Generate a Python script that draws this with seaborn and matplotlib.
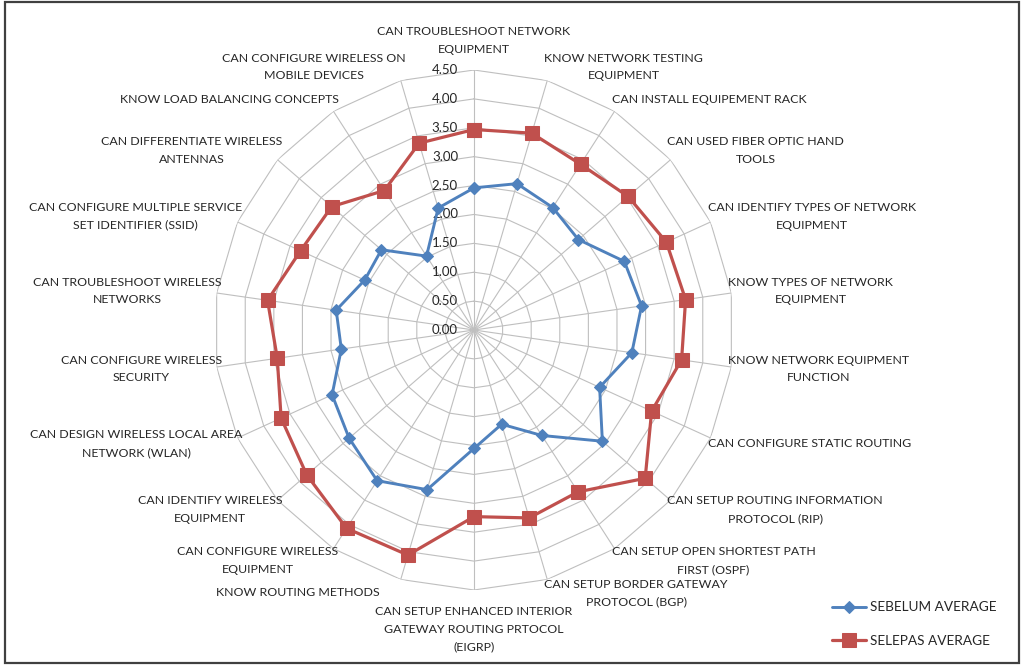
import numpy as np
import pandas as pd
import matplotlib
matplotlib.use("Agg")
import matplotlib.pyplot as plt
from matplotlib.patches import Rectangle
import seaborn as sns

# ---- data -------------------------------------------------------------
categories = [
    "CAN TROUBLESHOOT NETWORK\nEQUIPMENT",
    "KNOW NETWORK TESTING\nEQUIPMENT",
    "CAN INSTALL EQUIPEMENT RACK",
    "CAN USED FIBER OPTIC HAND\nTOOLS",
    "CAN IDENTIFY TYPES OF NETWORK\nEQUIPMENT",
    "KNOW TYPES OF NETWORK\nEQUIPMENT",
    "KNOW NETWORK EQUIPMENT\nFUNCTION",
    "CAN CONFIGURE STATIC ROUTING",
    "CAN SETUP ROUTING INFORMATION\nPROTOCOL (RIP)",
    "CAN SETUP OPEN SHORTEST PATH\nFIRST (OSPF)",
    "CAN SETUP BORDER GATEWAY\nPROTOCOL (BGP)",
    "CAN SETUP ENHANCED INTERIOR\nGATEWAY ROUTING PRTOCOL\n(EIGRP)",
    "KNOW ROUTING METHODS",
    "CAN CONFIGURE WIRELESS\nEQUIPMENT",
    "CAN IDENTIFY WIRELESS\nEQUIPMENT",
    "CAN DESIGN WIRELESS LOCAL AREA\nNETWORK (WLAN)",
    "CAN CONFIGURE WIRELESS\nSECURITY",
    "CAN TROUBLESHOOT WIRELESS\nNETWORKS",
    "CAN CONFIGURE MULTIPLE SERVICE\nSET IDENTIFIER (SSID)",
    "CAN DIFFERENTIATE WIRELESS\nANTENNAS",
    "KNOW LOAD BALANCING CONCEPTS",
    "CAN CONFIGURE WIRELESS ON\nMOBILE DEVICES",
]

sebelum_avg = [2.46, 2.64, 2.52, 2.39, 2.86, 2.93, 2.76, 2.39, 2.94, 2.17, 1.70,
               2.05, 2.88, 3.10, 2.86, 2.70, 2.32, 2.41, 2.08, 2.12, 1.52, 2.20]
selepas_avg = [3.47, 3.55, 3.41, 3.53, 3.66, 3.70, 3.63, 3.38, 3.92, 3.33, 3.39,
               3.23, 4.06, 4.08, 3.83, 3.67, 3.44, 3.61, 3.30, 3.26, 2.87, 3.37]

series_names = ["SEBELUM AVERAGE", "SELEPAS AVERAGE"]
radial_ticks = [0.0, 0.5, 1.0, 1.5, 2.0, 2.5, 3.0, 3.5, 4.0, 4.5]
tick_labels = ["0.00", "0.50", "1.00", "1.50", "2.00", "2.50", "3.00", "3.50", "4.00", "4.50"]

# ---- styling ----------------------------------------------------------
sns.set_theme(style="white")
plt.rcParams["font.family"] = ["Lato", "DejaVu Sans"]
TEXT = "#262626"
GRID = "#bfbfbf"
BLUE = "#4f81bd"
RED = "#c0504d"
FS = 8.9
LSP = 1.75

W, H = 1021, 665
fig = plt.figure(figsize=(W / 100, H / 100), dpi=100)

cx, cy, R = 474, 330, 260  # centre and outer radius in pixels
ax = fig.add_axes([(cx - R) / W, (H - cy - R) / H, 2 * R / W, 2 * R / H],
                  projection="polar")
ax.set_theta_zero_location("N")
ax.set_theta_direction(-1)
ax.patch.set_visible(False)
ax.spines["polar"].set_visible(False)
ax.grid(False)
ax.set_xticks([])
ax.set_yticks([])
rmax = radial_ticks[-1]
ax.set_ylim(0, rmax)

n = len(categories)
theta = np.linspace(0, 2 * np.pi, n, endpoint=False)
theta_closed = np.append(theta, theta[0])

# polygonal grid rings and spokes
for r in radial_ticks[1:]:
    ax.plot(theta_closed, [r] * (n + 1), color=GRID, lw=0.8, zorder=1)
for t in theta:
    ax.plot([t, t], [0, rmax], color=GRID, lw=0.8, zorder=1)

# radial value labels beside the top spoke
for r, lab in zip(radial_ticks, tick_labels):
    ax.annotate(lab, xy=(0, r), xytext=(-16, 0), textcoords="offset pixels",
                ha="right", va="center", fontsize=9.5, color=TEXT)

# ---- series -----------------------------------------------------------
df = pd.DataFrame({
    "theta": np.concatenate([theta_closed, theta_closed]),
    "value": sebelum_avg + [sebelum_avg[0]] + selepas_avg + [selepas_avg[0]],
    "series": [series_names[0]] * (n + 1) + [series_names[1]] * (n + 1),
})

styles = {
    series_names[0]: dict(color=BLUE, marker="D", markersize=6.0, linewidth=2.1),
    series_names[1]: dict(color=RED, marker="s", markersize=10, linewidth=2.3),
}
handles = []
for name in series_names:
    sub = df[df["series"] == name]
    st = styles[name]
    sns.lineplot(data=sub, x="theta", y="value", sort=False, estimator=None,
                 ax=ax, color=st["color"], marker=st["marker"],
                 markersize=st["markersize"], linewidth=st["linewidth"],
                 markeredgecolor=st["color"], legend=False, zorder=3,
                 clip_on=False)
    handles.append(ax.get_lines()[-1])
ax.set_xlabel("")
ax.set_ylabel("")

# ---- category labels --------------------------------------------------
for i, (t, lab) in enumerate(zip(theta, categories)):
    s, c = np.sin(t), np.cos(t)
    if abs(s) < 1e-6:
        ha = "center"
        va = "bottom" if c > 0 else "top"
        dx, dy = 0, (15 if c > 0 else -16)
    elif s > 0:
        ha, va = "left", "center"
        dx, dy = -3, 14 * c
    else:
        ha, va = "right", "center"
        dx, dy = 5, 14 * c
    if lab == "KNOW ROUTING METHODS":
        dx -= 26
    ax.annotate(lab, xy=(t, rmax), xytext=(dx, dy), textcoords="offset pixels",
                ha=ha, va=va, multialignment="center", fontsize=FS,
                linespacing=LSP, color=TEXT, annotation_clip=False)

# ---- legend -----------------------------------------------------------
fig.legend(handles=handles, labels=series_names, loc="center left",
           bbox_to_anchor=(820 / W, 1 - 624 / H), frameon=False, fontsize=9.8,
           handlelength=2.5, handletextpad=0.25, labelspacing=1.55,
           labelcolor=TEXT)

# chart border
fig.add_artist(Rectangle((5 / W, 2 / H), 1014 / W, 661 / H, transform=fig.transFigure,
                         fill=False, edgecolor="#404040", linewidth=1.6))

fig.savefig("out.png", dpi=100)
